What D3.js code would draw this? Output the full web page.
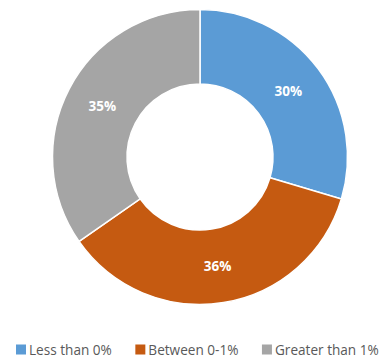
<html>
<head>
<script src="https://d3js.org/d3.v7.min.js"></script>
<style>
  body { margin: 0; background: #fff; }
  text { font-family: "Open Sans", "Noto Sans", sans-serif; }
</style>
</head>
<body>
<script>
// data
var categorias = ["Less than 0%", "Between 0-1%", "Greater than 1%"];
var valores = [29.6, 35.7, 34.7];
var etiquetas = ["30%", "36%", "35%"];
var colores = ["#5B9BD5", "#C55A11", "#A5A5A5"];

var ancho = 392, alto = 358;
var cx = 200, cy = 157;
var rExt = 147.5, rInt = 73;

var datos = categorias.map((c, i) => ({ nombre: c, valor: valores[i], etiqueta: etiquetas[i], color: colores[i] }));

var svg = d3.select("body").append("svg")
  .attr("width", ancho)
  .attr("height", alto);

var pie = d3.pie().value(d => d.valor).sort(null);
var arco = d3.arc().innerRadius(rInt).outerRadius(rExt);

var g = svg.append("g").attr("transform", "translate(" + cx + "," + cy + ")");

var trozos = g.selectAll("g.slice")
  .data(pie(datos))
  .enter()
  .append("g")
  .attr("class", "slice");

trozos.append("path")
  .attr("d", arco)
  .attr("fill", d => d.data.color)
  .attr("stroke", "#fff")
  .attr("stroke-width", 1.5);

trozos.append("text")
  .attr("transform", d => "translate(" + arco.centroid(d) + ")")
  .attr("text-anchor", "middle")
  .attr("dy", "0.35em")
  .attr("fill", "#fff")
  .attr("font-weight", "bold")
  .attr("font-size", 13.5)
  .text(d => d.data.etiqueta);

// leyenda
var ley = svg.append("g").attr("transform", "translate(16,354.5)");
var x = 0;
datos.forEach(function (d, i) {
  var item = ley.append("g").attr("transform", "translate(" + x + ",0)");
  item.append("rect")
    .attr("x", 0).attr("y", -10)
    .attr("width", 10).attr("height", 10)
    .attr("fill", d.color);
  var t = item.append("text")
    .attr("x", 13)
    .attr("fill", "#595959")
    .attr("font-size", 13.6)
    .text(d.nombre);
  x += 13 + t.node().getComputedTextLength() + 23.5;
});
</script>
</body>
</html>
